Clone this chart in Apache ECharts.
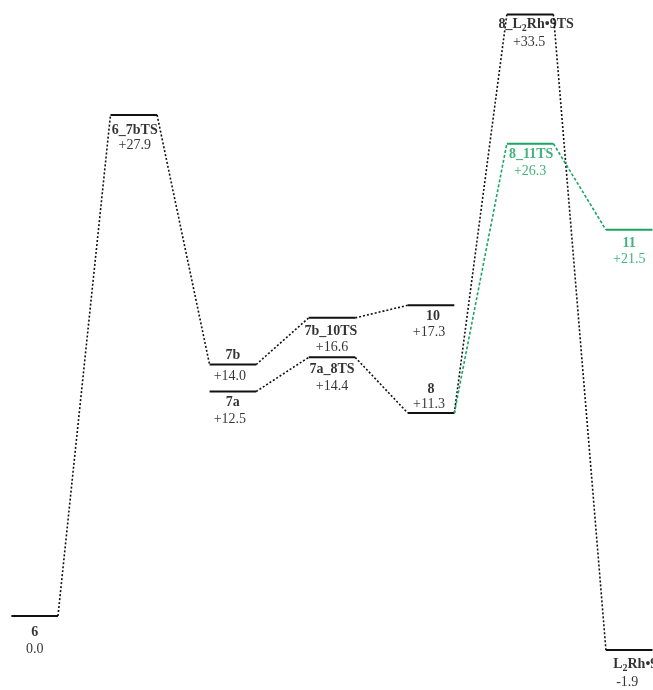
<!DOCTYPE html>
<html>
<head>
<meta charset="utf-8">
<script src="https://cdn.jsdelivr.net/npm/echarts@6/dist/echarts.min.js"></script>
<style>
  html, body { margin: 0; padding: 0; background: #ffffff; }
  #chart { width: 653px; height: 690px; }
</style>
</head>
<body>
<div id="chart"></div>
<script>
// Free-energy profile (kcal/mol). "L2" in a name is drawn as L with subscript 2.
const states   = ['6', '6_7bTS', '7b', '7a', '7b_10TS', '7a_8TS', '10', '8', '8_L2Rh•9TS', '8_11TS', '11', 'L2Rh•9'];
const energies = [0.0, 27.9, 14.0, 12.5, 16.6, 14.4, 17.3, 11.3, 33.5, 26.3, 21.5, -1.9];
const columns  = [0, 1, 2, 2, 3, 3, 4, 4, 5, 5, 6, 6];

// Dotted connectors of the main pathway and of the green branch
const mainLinks  = [['6', '6_7bTS'], ['6_7bTS', '7b'], ['7b', '7b_10TS'], ['7b_10TS', '10'],
                    ['7a', '7a_8TS'], ['7a_8TS', '8'], ['8', '8_L2Rh•9TS'], ['8_L2Rh•9TS', 'L2Rh•9']];
const greenLinks = [['8', '8_11TS'], ['8_11TS', '11']];
const greenStates = ['8_11TS', '11'];

// Label offsets in pixels from the level centre: [name dx, name dy, value dx, value dy]
const labelOffsets = {
  '6':          [0, 16, 0, 33],
  '6_7bTS':     [1, 15, 1, 30],
  '7b':         [0, -9, -3, 12],
  '7a':         [0, 11, -3, 28],
  '7b_10TS':    [-1, 14, 0, 29],
  '7a_8TS':     [0, 12, 0, 29],
  '10':         [2, 11, -2, 27],
  '8':          [0, -24, -2, -9],
  '8_L2Rh•9TS': [6, 10, -1, 28],
  '8_11TS':     [1, 11, 0, 28],
  '11':         [0, 14, 0, 29],
  'L2Rh•9':     [6, 14, -2, 32]
};

const HALF = 0.235;          // half width of a level bar, in column units
const BLACK = '#111111';
const GREEN = '#1aa563';
const FONT = "'Liberation Serif', 'Times New Roman', serif";

const idx = n => states.indexOf(n);
const colorOf = n => greenStates.includes(n) ? GREEN : BLACK;
const textColorOf = n => greenStates.includes(n) ? '#12a05c' : '#000000';
const fmtValue = v => v > 0 ? '+' + v.toFixed(1) : v.toFixed(1);
const richName = n => n.split('L2').map(p => p ? '{n|' + p + '}' : '').join('{n|L}{s|2}');

const series = [];

// horizontal level bars
states.forEach((n, i) => {
  series.push({
    type: 'line', silent: true, symbol: 'none',
    data: [[columns[i] - HALF, energies[i]], [columns[i] + HALF, energies[i]]],
    lineStyle: { color: colorOf(n), width: 2 }
  });
});

// connectors between bars
function addLinks(links, color, dash) {
  links.forEach(([a, b]) => {
    const i = idx(a), j = idx(b);
    series.push({
      type: 'line', silent: true, symbol: 'none',
      data: [[columns[i] + HALF, energies[i]], [columns[j] - HALF, energies[j]]],
      lineStyle: { color: color, width: 1.6, type: dash }
    });
  });
}
addLinks(mainLinks, BLACK, [2, 2]);
addLinks(greenLinks, GREEN, [3, 2]);

// names and energies under/over each bar
const labelData = [];
states.forEach((n, i) => {
  const o = labelOffsets[n];
  const c = textColorOf(n);
  labelData.push({
    value: [columns[i], energies[i]],
    label: {
      show: true, position: 'inside', offset: [o[0], o[1]],
      formatter: richName(n),
      rich: {
        n: { fontFamily: FONT, fontWeight: 'bold', fontSize: 14, color: c, lineHeight: 18 },
        s: { fontFamily: FONT, fontWeight: 'bold', fontSize: 10, color: c, lineHeight: 10, verticalAlign: 'bottom' }
      }
    }
  });
  labelData.push({
    value: [columns[i], energies[i]],
    label: {
      show: true, position: 'inside', offset: [o[2], o[3]],
      formatter: fmtValue(energies[i]),
      fontFamily: FONT, fontSize: 14, color: c
    }
  });
});
series.push({
  type: 'scatter', silent: true, symbolSize: 0,
  itemStyle: { color: 'transparent' },
  data: labelData
});

const chart = echarts.init(document.getElementById('chart'), null, { renderer: 'canvas' });
chart.setOption({
  backgroundColor: '#ffffff',
  animation: false,
  grid: { left: 0, right: 0, top: 5.4, bottom: 2.2 },
  xAxis: { type: 'value', min: -0.35, max: 6.24, show: false },
  yAxis: { type: 'value', min: -4, max: 34, show: false },
  series: series
});
</script>
</body>
</html>
